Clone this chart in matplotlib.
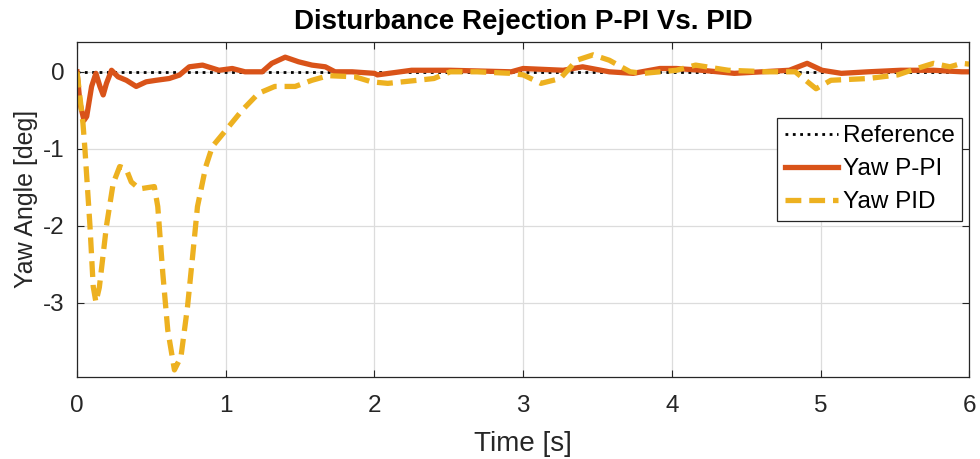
import numpy as np
import matplotlib.pyplot as plt

plt.rcParams['font.family'] = ['Liberation Sans', 'DejaVu Sans']
plt.rcParams['axes.unicode_minus'] = False

# yaw response of the P-PI controller
t_ppi = [0.0, 0.02, 0.047, 0.065, 0.098, 0.127, 0.154, 0.176, 0.198, 0.232,
         0.276, 0.332, 0.398, 0.465, 0.532, 0.62, 0.688, 0.755, 0.844, 0.955,
         1.044, 1.13, 1.245, 1.31, 1.4, 1.49, 1.58, 1.67, 1.735, 1.85,
         2.0, 2.02, 2.25, 2.51, 2.92, 3.0, 3.27, 3.4, 3.58, 3.74,
         3.92, 4.03, 4.2, 4.42, 4.79, 4.91, 5.01, 5.14, 5.32, 5.54,
         5.76, 5.95, 6.0]
y_ppi = [0.0, -0.41, -0.63, -0.58, -0.19, -0.02, -0.19, -0.30, -0.15, 0.02,
         -0.065, -0.11, -0.19, -0.13, -0.11, -0.087, -0.043, 0.065, 0.087, 0.02,
         0.043, 0.0, 0.0, 0.11, 0.19, 0.13, 0.087, 0.065, 0.0, 0.0,
         -0.02, -0.04, 0.02, 0.02, 0.0, 0.043, 0.02, 0.065, 0.0, -0.02,
         0.043, 0.043, 0.02, -0.02, 0.02, 0.11, 0.02, -0.02, 0.0, 0.02,
         0.02, 0.0, 0.0]

# yaw response of the PID controller
t_pid = [0.0, 0.04, 0.053, 0.087, 0.109, 0.127, 0.15, 0.198, 0.243, 0.287,
         0.33, 0.365, 0.42, 0.52, 0.543, 0.577, 0.61, 0.655, 0.699, 0.743,
         0.777, 0.81, 0.866, 0.91, 1.0, 1.11, 1.22, 1.33, 1.467, 1.58,
         1.69, 1.87, 1.98, 2.09, 2.29, 2.4, 2.51, 2.69, 2.92, 3.0,
         3.12, 3.25, 3.36, 3.47, 3.58, 3.72, 3.81, 4.03, 4.16, 4.38,
         4.65, 4.83, 4.9, 4.97, 5.07, 5.32, 5.52, 5.61, 5.76, 5.87,
         5.95, 6.0]
y_pid = [0.0, -0.67, -1.0, -2.0, -2.79, -2.99, -2.8, -2.0, -1.45, -1.23,
         -1.26, -1.43, -1.52, -1.49, -1.75, -2.62, -3.35, -3.87, -3.70, -3.05,
         -2.40, -1.75, -1.23, -0.97, -0.76, -0.50, -0.28, -0.19, -0.19, -0.11,
         -0.05, -0.065, -0.13, -0.15, -0.11, -0.087, 0.0, 0.0, -0.02, -0.04,
         -0.15, -0.087, 0.15, 0.22, 0.15, 0.0, -0.02, 0.02, 0.087, 0.02,
         0.0, 0.0, -0.11, -0.22, -0.11, -0.087, -0.04, 0.02, 0.11, 0.065,
         0.11, 0.1]

t_ref = [0.0, 6.0]
y_ref = [0.0, 0.0]

fig = plt.figure(figsize=(9.8, 4.59), dpi=100)
ax = fig.add_axes([0.0786, 0.179, 0.9104, 0.730])

ax.plot(t_ref, y_ref, ':', color='black', linewidth=2.0, label='Reference')
ax.plot(t_ppi, y_ppi, '-', color='#D95319', linewidth=3.8, label='Yaw P-PI')
ax.plot(t_pid, y_pid, '--', color='#EDB120', linewidth=3.8,
        dashes=(3.0, 1.5), label='Yaw PID')

ax.set_xlim(0, 6)
ax.set_ylim(-3.96, 0.39)
ax.set_xticks(np.arange(0, 7, 1))
ax.set_yticks([-3, -2, -1, 0])
ax.grid(True, color='#dcdcdc', linewidth=0.9)
ax.set_axisbelow(True)

ax.tick_params(direction='in', top=True, right=True, length=5,
               labelsize=17.5, colors='#262626')
ax.tick_params(axis='x', pad=13)
ax.tick_params(axis='y', pad=9)
for s in ax.spines.values():
    s.set_color('#262626')
    s.set_linewidth(0.9)

ax.set_xlabel('Time [s]', fontsize=20, color='#262626', labelpad=10)
ax.set_ylabel('Yaw Angle [deg]', fontsize=18, color='#262626')
ax.yaxis.set_label_coords(-0.044, 0.53)
ax.set_title('Disturbance Rejection P-PI Vs. PID', fontsize=20,
             fontweight='bold', color='black', pad=9)

leg = ax.legend(loc='upper right', bbox_to_anchor=(0.992, 0.772),
                fontsize=17.5, fancybox=False, framealpha=1,
                edgecolor='#262626', handlelength=2.2, handletextpad=0.2,
                borderpad=0.3, labelspacing=0.45, borderaxespad=0)
leg.get_frame().set_linewidth(0.9)

fig.savefig('out.png', dpi=100)
